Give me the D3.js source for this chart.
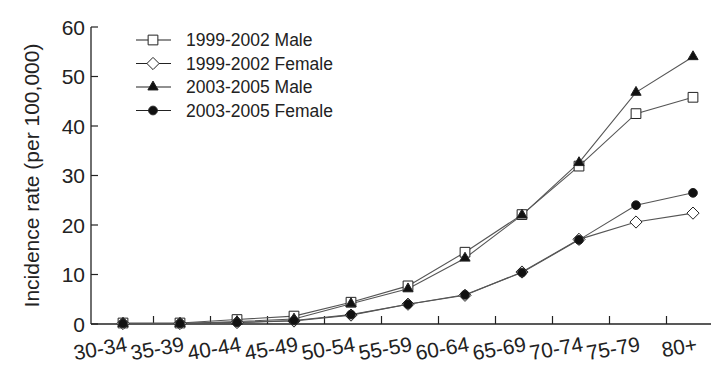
<!DOCTYPE html>
<head>
  <meta charset="utf-8">
  <title>Incidence rate by age group</title>
  <style>
    body { margin: 0; background: #fff; }
    text { font-family: "Liberation Sans", Arial, sans-serif; fill: #222; }
  </style>
</head>
<body>
<svg width="715" height="374"></svg>
<script src="https://d3js.org/d3.v7.min.js"></script>
<script>

var ageGroups = ["30-34", "35-39", "40-44", "45-49", "50-54", "55-59", "60-64", "65-69", "70-74", "75-79", "80+"];

var male9902   = [0.2, 0.2, 0.9, 1.6, 4.4, 7.7, 14.5, 22.1, 31.9, 42.5, 45.8];
var female9902 = [0.1, 0.1, 0.3, 0.6, 1.8, 4.0, 5.8, 10.5, 17.1, 20.6, 22.4];
var male0305   = [0.1, 0.1, 0.5, 1.0, 4.1, 7.1, 13.3, 22.0, 32.6, 46.8, 54.0];
var female0305 = [0.1, 0.1, 0.3, 0.7, 1.9, 4.0, 5.9, 10.4, 17.0, 24.0, 26.5];

var yTicks = [0, 10, 20, 30, 40, 50, 60];

var series = [
  { name: "1999-2002 Male",   values: male9902,   symbol: d3.symbolSquare,   fill: "#fff", size: 95 },
  { name: "1999-2002 Female", values: female9902, symbol: d3.symbolDiamond2, fill: "#fff", size: 95 },
  { name: "2003-2005 Male",   values: male0305,   symbol: d3.symbolTriangle2, fill: "#111", size: 75 },
  { name: "2003-2005 Female", values: female0305, symbol: d3.symbolCircle,   fill: "#111", size: 60 }
];

var svg = d3.select("svg");

var axisLeft = 91, axisRight = 711;

// points sit at 123 + i*57, so the band starts a bit left of the axis start
var x = d3.scalePoint()
    .domain(ageGroups)
    .range([123, 693]);

var y = d3.scaleLinear()
    .domain([0, 60])
    .range([324, 27]);

var step = x.step();

// y axis
var gy = svg.append("g");
gy.append("line")
    .attr("x1", axisLeft).attr("x2", axisLeft)
    .attr("y1", y(0)).attr("y2", y(60))
    .attr("stroke", "#222").attr("stroke-width", 1.3);
gy.selectAll(".yt").data(yTicks).enter().append("line")
    .attr("x1", axisLeft).attr("x2", axisLeft + 7)
    .attr("y1", function(d) { return y(d); })
    .attr("y2", function(d) { return y(d); })
    .attr("stroke", "#222").attr("stroke-width", 1.2);
gy.selectAll(".yl").data(yTicks).enter().append("text")
    .attr("x", axisLeft - 6)
    .attr("y", function(d) { return y(d); })
    .attr("dy", "0.36em")
    .attr("text-anchor", "end")
    .style("font-size", "21px")
    .text(function(d) { return d; });

svg.append("text")
    .attr("transform", "translate(39," + (y(0) + y(60)) / 2 + ") rotate(-90)")
    .attr("text-anchor", "middle")
    .style("font-size", "21px")
    .text("Incidence rate (per 100,000)");

// x axis
var gx = svg.append("g");
gx.append("line")
    .attr("x1", axisLeft).attr("x2", axisRight)
    .attr("y1", y(0)).attr("y2", y(0))
    .attr("stroke", "#222").attr("stroke-width", 1.3);
gx.selectAll(".xt").data(ageGroups.slice(0, -1)).enter().append("line")
    .attr("x1", function(d) { return x(d) + step / 2 + 2; })
    .attr("x2", function(d) { return x(d) + step / 2 + 2; })
    .attr("y1", y(0)).attr("y2", y(0) - 8)
    .attr("stroke", "#222").attr("stroke-width", 1.2);
gx.selectAll(".xl").data(ageGroups).enter().append("text")
    .attr("transform", function(d) { return "translate(" + (x(d) + 5) + ",351) rotate(-10)"; })
    .attr("text-anchor", "end")
    .style("font-size", "21px")
    .text(function(d) { return d; });

// lines and markers
var line = d3.line()
    .x(function(d, i) { return x(ageGroups[i]); })
    .y(function(d) { return y(d); });

series.forEach(function(s) {
  svg.append("path")
      .datum(s.values)
      .attr("d", line)
      .attr("fill", "none")
      .attr("stroke", "#555")
      .attr("stroke-width", 1.1);
});

series.forEach(function(s) {
  svg.selectAll(null).data(s.values).enter().append("path")
      .attr("transform", function(d, i) { return "translate(" + x(ageGroups[i]) + "," + y(d) + ")"; })
      .attr("d", d3.symbol().type(s.symbol).size(s.size))
      .attr("fill", s.fill)
      .attr("stroke", "#222")
      .attr("stroke-width", 1);
});

// legend
var legend = svg.append("g");
series.forEach(function(s, i) {
  var ly = 40 + i * 23.5;
  legend.append("line")
      .attr("x1", 136).attr("x2", 171)
      .attr("y1", ly).attr("y2", ly)
      .attr("stroke", "#222").attr("stroke-width", 1.1);
  legend.append("path")
      .attr("transform", "translate(153," + ly + ")")
      .attr("d", d3.symbol().type(s.symbol).size(s.size))
      .attr("fill", s.fill)
      .attr("stroke", "#222")
      .attr("stroke-width", 1);
  legend.append("text")
      .attr("x", 186).attr("y", ly)
      .attr("dy", "0.36em")
      .style("font-size", "17.5px")
      .text(s.name);
});

</script>
</body>
